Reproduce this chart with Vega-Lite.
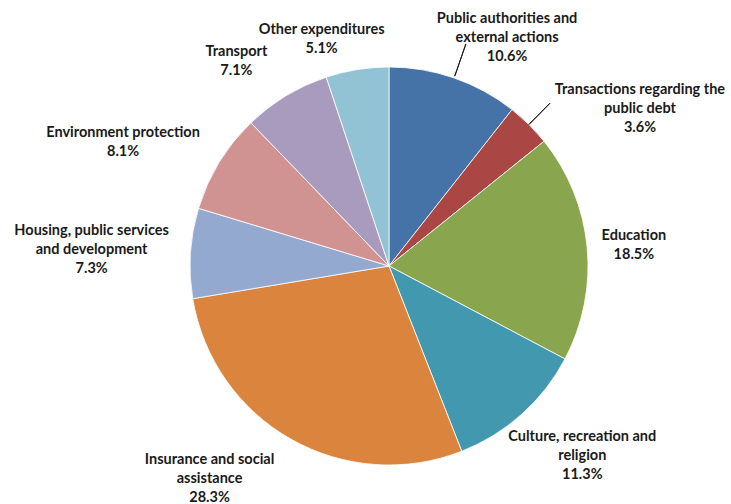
{
  "$schema": "https://vega.github.io/schema/vega-lite/v6.json",
  "width": 684,
  "height": 476,
  "padding": {"left": 47, "top": 28, "right": 0, "bottom": 0},
  "autosize": {"type": "none"},
  "background": "white",
  "config": {
    "view": {"stroke": null},
    "text": {"font": "Lato", "fontWeight": "bold", "fontSize": 14.5, "lineHeight": 19, "lineBreak": "\n", "align": "center", "baseline": "middle", "color": "#1a1a1a"}
  },
  "data": {
    "values": [
      {"idx": 1, "category": "Public authorities and external actions", "label": "Public authorities and\nexternal actions\n10.6%", "value": 10.6},
      {"idx": 2, "category": "Transactions regarding the public debt", "label": "Transactions  regarding the\npublic debt\n3.6%", "value": 3.6},
      {"idx": 3, "category": "Education", "label": "Education\n18.5%", "value": 18.5},
      {"idx": 4, "category": "Culture, recreation and religion", "label": "Culture, recreation and\nreligion\n11.3%", "value": 11.3},
      {"idx": 5, "category": "Insurance and social assistance", "label": "Insurance  and social\nassistance\n28.3%", "value": 28.3},
      {"idx": 6, "category": "Housing, public services and development", "label": "Housing, public services\nand development\n7.3%", "value": 7.3},
      {"idx": 7, "category": "Environment protection", "label": "Environment protection\n8.1%", "value": 8.1},
      {"idx": 8, "category": "Transport", "label": "Transport\n7.1%", "value": 7.1},
      {"idx": 9, "category": "Other expenditures", "label": "Other expenditures\n5.1%", "value": 5.1}
    ]
  },
  "encoding": {
    "theta": {"field": "value", "type": "quantitative", "stack": true},
    "order": {"field": "idx", "type": "quantitative"}
  },
  "layer": [
    {
      "mark": {"type": "arc", "outerRadius": 199, "stroke": "white", "strokeWidth": 0.8},
      "encoding": {
        "color": {
          "field": "category",
          "type": "nominal",
          "legend": null,
          "scale": {
            "domain": ["Public authorities and external actions", "Transactions regarding the public debt", "Education", "Culture, recreation and religion", "Insurance and social assistance", "Housing, public services and development", "Environment protection", "Transport", "Other expenditures"],
            "range": ["#4572A7", "#AA4643", "#89A54E", "#4198AF", "#DB843D", "#93A9CF", "#D19392", "#A99BBD", "#92C3D5"]
          }
        }
      }
    },
    {
      "mark": {"type": "arc", "innerRadius": 201, "outerRadius": 235, "padAngle": 1.2, "fill": "transparent", "stroke": "#1a1a1a", "strokeWidth": 1},
      "encoding": {"opacity": {"condition": {"test": "datum.idx === 1", "value": 1}, "value": 0}}
    },
    {
      "mark": {"type": "arc", "innerRadius": 199, "outerRadius": 229, "padAngle": 1.2, "fill": "transparent", "stroke": "#1a1a1a", "strokeWidth": 1},
      "encoding": {"opacity": {"condition": {"test": "datum.idx === 2", "value": 1}, "value": 0}}
    },
    {
      "mark": {"type": "text", "radius": 260, "dx": 33, "dy": -1},
      "encoding": {"text": {"field": "label"}, "opacity": {"condition": {"test": "datum.idx === 1", "value": 1}, "value": 0}}
    },
    {
      "mark": {"type": "text", "radius": 300, "dx": 40, "dy": 37},
      "encoding": {"text": {"field": "label"}, "opacity": {"condition": {"test": "datum.idx === 2", "value": 1}, "value": 0}}
    },
    {
      "mark": {"type": "text", "radius": 247, "dx": -1, "dy": -6},
      "encoding": {"text": {"field": "label"}, "opacity": {"condition": {"test": "datum.idx === 3", "value": 1}, "value": 0}}
    },
    {
      "mark": {"type": "text", "radius": 260, "dx": 20, "dy": -23},
      "encoding": {"text": {"field": "label"}, "opacity": {"condition": {"test": "datum.idx === 4", "value": 1}, "value": 0}}
    },
    {
      "mark": {"type": "text", "radius": 230, "dx": -66, "dy": -6},
      "encoding": {"text": {"field": "label"}, "opacity": {"condition": {"test": "datum.idx === 5", "value": 1}, "value": 0}}
    },
    {
      "mark": {"type": "text", "radius": 299, "dx": 1, "dy": -16},
      "encoding": {"text": {"field": "label"}, "opacity": {"condition": {"test": "datum.idx === 6", "value": 1}, "value": 0}}
    },
    {
      "mark": {"type": "text", "radius": 300, "dx": -10, "dy": 23},
      "encoding": {"text": {"field": "label"}, "opacity": {"condition": {"test": "datum.idx === 7", "value": 1}, "value": 0}}
    },
    {
      "mark": {"type": "text", "radius": 260, "dx": -18, "dy": 8},
      "encoding": {"text": {"field": "label"}, "opacity": {"condition": {"test": "datum.idx === 8", "value": 1}, "value": 0}}
    },
    {
      "mark": {"type": "text", "radius": 240, "dx": -29, "dy": 1},
      "encoding": {"text": {"field": "label"}, "opacity": {"condition": {"test": "datum.idx === 9", "value": 1}, "value": 0}}
    }
  ]
}
